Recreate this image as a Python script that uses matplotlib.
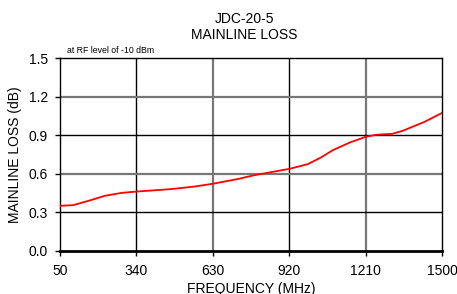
import matplotlib
matplotlib.use("Agg")
import matplotlib.pyplot as plt

plt.rcParams['font.family'] = ['Liberation Sans', 'DejaVu Sans']

freq = [50, 100, 160, 220, 285, 340, 470, 560, 630, 725, 785, 920, 990,
        1040, 1085, 1150, 1210, 1250, 1310, 1350, 1430, 1500]
loss = [0.350, 0.355, 0.390, 0.428, 0.451, 0.461, 0.480, 0.500, 0.522, 0.559,
        0.588, 0.638, 0.675, 0.727, 0.784, 0.844, 0.888, 0.904, 0.911, 0.935, 1.002, 1.075]

xticks = [50, 340, 630, 920, 1210, 1500]
yticks = [0.0, 0.3, 0.6, 0.9, 1.2, 1.5]

fig = plt.figure(figsize=(4.57, 2.94), dpi=100)
ax = fig.add_axes([0.1313, 0.1473, 0.8365, 0.6544])

# grid lines alternate between grey and black, like the original
for i, x in enumerate(xticks[1:-1]):
    if i % 2 == 0:
        ax.axvline(x, color='black', lw=1.0, zorder=1)
    else:
        ax.axvline(x, color='#777777', lw=1.6, zorder=1)
for i, y in enumerate(yticks[1:-1]):
    if i % 2 == 0:
        ax.axhline(y, color='black', lw=1.0, zorder=1)
    else:
        ax.axhline(y, color='#777777', lw=1.6, zorder=1)

ax.plot(freq, loss, color='red', lw=1.3, zorder=3)

ax.set_xlim(50, 1500)
ax.set_ylim(0, 1.5)
ax.set_xticks(xticks)
ax.set_yticks(yticks)
ax.set_yticklabels(['%.1f' % v for v in yticks])
ax.tick_params(axis='both', labelsize=10, length=3.6, width=1, direction='out')
ax.tick_params(axis='x', pad=6)
ax.tick_params(axis='y', pad=5)

for s in ['left', 'right', 'top']:
    ax.spines[s].set_linewidth(1.0)
ax.spines['bottom'].set_linewidth(2.0)

ax.set_xlabel('FREQUENCY (MHz)', fontsize=10, labelpad=3)
ax.set_ylabel('MAINLINE LOSS (dB)', fontsize=10, labelpad=5)

fig.text(0.535, 0.9228, 'JDC-20-5', ha='center', va='baseline', fontsize=10)
fig.text(0.535, 0.8663, 'MAINLINE LOSS', ha='center', va='baseline', fontsize=10)
ax.text(0.018, 1.015, 'at RF level of -10 dBm', transform=ax.transAxes,
        fontsize=6.3, ha='left', va='bottom')

fig.savefig('out.png', dpi=100)
